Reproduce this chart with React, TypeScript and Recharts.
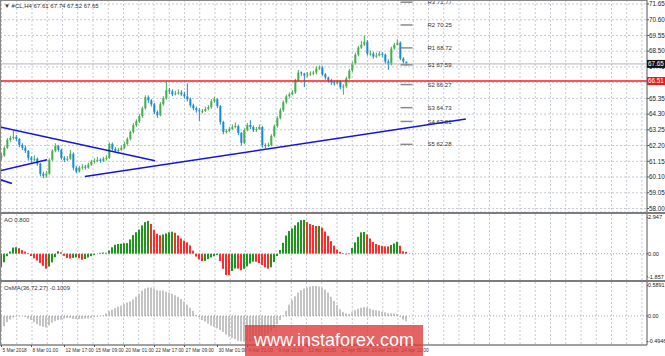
import React from 'react';
import { ComposedChart, Bar, XAxis, YAxis, CartesianGrid, ReferenceLine, Cell } from 'recharts';

// H4 bars (bar index 0..135)
const firstOpen = 61.4;
const closes = [
  61.52, 62.05, 62.58, 62.71, 62.77, 62.64, 62.24, 62.05, 61.85, 61.38,
  61.25, 61.32, 60.99, 60.32, 60.19, 60.32, 61.25, 61.85, 62.18, 61.91,
  61.38, 61.25, 61.32, 61.65, 60.72, 60.46, 60.72, 60.79, 60.72, 60.92,
  61.12, 61.18, 61.25, 61.18, 61.32, 61.38, 62.31, 61.98, 61.85, 61.91,
  62.05, 62.31, 62.64, 63.11, 63.57, 63.83, 64.17, 64.69, 65.42, 65.22,
  64.96, 64.43, 64.23, 64.96, 65.36, 65.89, 65.82, 65.62, 65.69, 65.75,
  65.62, 65.49, 65.29, 64.89, 64.69, 64.56, 64.5, 64.5, 64.63, 64.76,
  65.16, 65.29, 64.83, 63.77, 63.11, 63.17, 63.3, 63.44, 63.5, 63.04,
  62.38, 63.24, 63.57, 63.44, 63.24, 63.3, 63.44, 62.24, 62.18, 62.24,
  62.84, 63.5, 64.03, 64.56, 65.09, 65.49, 65.62, 65.75, 66.55, 67.08,
  67.01, 66.88, 66.95, 67.01, 67.08, 67.34, 67.41, 66.95, 66.75, 66.55,
  66.42, 66.35, 66.48, 66.09, 66.15, 66.68, 67.21, 67.68, 68.27, 68.74,
  68.93, 69.13, 68.34, 68.34, 68.14, 68.21, 68.34, 68.27, 67.81, 67.61,
  68.67, 68.93, 69.07, 68.01, 67.81, 67.65,
];
const highs = [
  61.7, 62.15, 62.7, 62.85, 63.17, 62.9, 62.7, 62.35, 62.2, 61.9,
  61.5, 61.55, 61.4, 61.05, 60.45, 60.5, 61.35, 61.95, 62.35, 62.25,
  61.98, 61.5, 61.5, 61.9, 61.75, 60.85, 60.85, 60.95, 60.9, 61.05,
  61.25, 61.35, 61.45, 61.35, 61.45, 61.55, 62.4, 62.4, 62.1, 62.05,
  62.2, 62.45, 62.75, 63.2, 63.7, 63.95, 64.3, 64.8, 65.55, 65.55,
  65.3, 65.05, 64.55, 65.1, 65.5, 66.45, 66.05, 65.95, 65.85, 65.95,
  65.9, 65.8, 66.35, 65.4, 65.0, 64.8, 64.7, 64.65, 64.8, 64.9,
  65.3, 65.45, 65.35, 64.9, 63.85, 63.3, 63.45, 63.6, 63.75, 63.6,
  63.1, 63.35, 63.7, 63.9, 63.55, 63.45, 63.6, 63.5, 62.35, 62.4,
  62.95, 63.6, 64.15, 64.7, 65.2, 65.6, 65.75, 65.9, 66.65, 67.25,
  67.15, 67.05, 67.1, 67.15, 67.2, 67.5, 67.55, 67.5, 67.05, 66.8,
  66.65, 66.55, 66.6, 66.55, 66.3, 66.8, 67.3, 67.8, 68.4, 68.85,
  69.2, 69.55, 69.25, 68.55, 68.45, 68.4, 68.5, 68.45, 68.35, 67.95,
  68.8, 69.05, 69.3, 69.15, 68.1, 67.74,
];
const lows = [
  61.2, 61.45, 61.98, 62.45, 62.6, 62.5, 62.1, 61.9, 61.7, 61.2,
  61.05, 61.15, 60.85, 60.15, 60.02, 60.05, 60.25, 61.15, 61.75, 61.8,
  61.25, 61.1, 61.15, 61.25, 60.55, 60.35, 60.4, 60.6, 60.6, 60.65,
  60.85, 61.0, 61.1, 61.05, 61.1, 61.2, 61.3, 61.85, 61.75, 61.75,
  61.85, 61.98, 62.2, 62.55, 63.0, 63.45, 63.7, 64.05, 64.6, 65.05,
  64.8, 64.3, 64.05, 64.15, 64.85, 65.25, 65.65, 65.5, 65.55, 65.6,
  65.5, 65.35, 65.15, 64.75, 64.55, 64.4, 63.85, 64.35, 64.45, 64.55,
  64.65, 65.05, 64.7, 63.6, 62.95, 63.0, 63.1, 63.25, 63.35, 62.9,
  62.2, 62.3, 63.15, 63.3, 63.1, 63.1, 63.25, 62.05, 62.0, 62.1,
  62.15, 62.75, 63.4, 63.95, 64.45, 65.0, 65.4, 65.55, 65.65, 66.45,
  66.85, 66.1, 66.75, 66.85, 66.9, 66.95, 67.25, 66.85, 66.6, 66.4,
  66.25, 66.2, 66.3, 65.95, 65.6, 66.05, 66.6, 67.1, 67.6, 68.15,
  68.65, 68.85, 68.2, 68.2, 68.0, 68.05, 68.15, 68.1, 67.65, 67.25,
  67.55, 68.6, 68.9, 67.9, 67.6, 67.52,
];
const aoValues = [
  -1.05, -0.7, -0.2, 0.18, 0.5, 0.53, 0.45, 0.29, 0.17, 0.07,
  -0.19, -0.37, -0.55, -0.76, -0.98, -1.21, -1.04, -0.7, -0.28, 0.2,
  0.12, -0.17, -0.35, -0.39, -0.34, -0.3, -0.37, -0.49, -0.43, -0.3,
  -0.2, -0.1, 0.0, 0.07, 0.1, 0.08, 0.26, 0.52, 0.73, 0.79,
  0.81, 0.85, 0.86, 1.16, 1.51, 1.74, 1.96, 2.3, 2.56, 2.66,
  2.42, 1.95, 1.62, 1.5, 1.56, 1.64, 1.74, 1.79, 1.7, 1.48,
  1.24, 1.06, 0.92, 0.68, 0.25, -0.23, -0.46, -0.6, -0.58, -0.44,
  -0.3, -0.21, -0.11, -0.6, -1.22, -1.73, -1.74, -1.4, -1.2, -1.21,
  -1.34, -1.22, -1.03, -0.8, -0.64, -0.65, -0.75, -0.91, -1.1, -1.2,
  -1.1, -0.68, -0.18, 0.3, 0.88, 1.47, 1.84, 2.05, 2.3, 2.55,
  2.72, 2.75, 2.56, 2.42, 2.33, 2.25, 2.25, 2.11, 1.8, 1.45,
  1.02, 0.65, 0.34, 0.15, 0.06, -0.06, 0.05, 0.46, 0.92, 1.37,
  1.73, 1.76, 1.56, 1.24, 0.96, 0.79, 0.7, 0.64, 0.6, 0.59,
  0.71, 0.83, 0.97, 0.65, 0.2, 0.15,
];
const osmaValues = [
  -0.29, -0.2, -0.12, -0.07, -0.03, -0.01, 0.01, 0.0, -0.02, -0.05,
  -0.08, -0.12, -0.16, -0.19, -0.21, -0.22, -0.18, -0.13, -0.1, -0.08,
  -0.07, -0.05, -0.04, -0.04, -0.06, -0.06, -0.06, -0.06, -0.05, -0.05,
  -0.04, -0.02, -0.01, 0.005, 0.01, 0.05, 0.09, 0.12, 0.15, 0.18,
  0.2, 0.23, 0.26, 0.28, 0.32, 0.37, 0.43, 0.49, 0.53, 0.55,
  0.55, 0.53, 0.5, 0.49, 0.49, 0.47, 0.45, 0.43, 0.4, 0.37,
  0.33, 0.28, 0.22, 0.16, 0.1, 0.02, -0.03, -0.08, -0.11, -0.15,
  -0.19, -0.21, -0.24, -0.27, -0.31, -0.36, -0.4, -0.43, -0.45, -0.48,
  -0.49, -0.5, -0.5, -0.5, -0.49, -0.47, -0.45, -0.43, -0.39, -0.35,
  -0.3, -0.23, -0.16, -0.08, 0.01, 0.1, 0.22, 0.31, 0.38, 0.45,
  0.5, 0.53, 0.55, 0.57, 0.58, 0.58, 0.57, 0.55, 0.51, 0.45,
  0.37, 0.29, 0.21, 0.13, 0.08, 0.05, 0.04, 0.07, 0.11, 0.14,
  0.16, 0.17, 0.16, 0.14, 0.12, 0.11, 0.1, 0.08, 0.07, 0.05,
  0.05, 0.05, 0.04, -0.02, -0.07, -0.1009,
];

const priceTicks = [58.0, 59.05, 60.1, 61.15, 62.2, 63.25, 64.3, 65.35, 66.4, 67.45, 68.5, 69.55, 70.6, 71.65];
const aoTicks = [2.947, 0, -1.857];
const aoTickLabels = ['2.947', '0.00', '-1.857'];
const osmaTicks = [0.5891, 0, -0.4946];
const osmaTickLabels = ['0.5891', '0.00', '-0.4946'];

const dateLabelBars = [0, 10, 21, 31, 41, 51, 61, 72, 82, 92, 102, 113, 123, 133];
const dateLabels = [
  '5 Mar 2018', '8 Mar 01:00', '12 Mar 17:00', '15 Mar 09:00', '20 Mar 01:00', '22 Mar 17:00', '27 Mar 09:00',
  '30 Mar 01:00', '4 Apr 21:00', '9 Apr 21:00', '12 Apr 13:00', '17 Apr 05:00', '19 Apr 21:00', '24 Apr 13:00',
];

const pivotNames = ['R3', 'R2', 'R1', 'S1', 'S2', 'S3', 'S4', 'S5'];
const pivotValues = [71.77, 70.25, 68.72, 67.59, 66.27, 64.73, 63.81, 62.28];
const pivotFrom = 133;
const pivotTo = 137;

const supportLevel = 66.51;
const lastPrice = 67.65;

// trend lines: [barIndex, price] pairs
const trendLines = [
  [[-0.5, 63.44], [51.2, 61.19]],
  [[-0.5, 60.52], [15.2, 61.25]],
  [[-0.5, 59.93], [3.5, 59.66]],
  [[27.8, 60.13], [154.8, 63.97]],
];

const UP = '#44ad4c';
const DOWN = '#1b8ad6';
const AO_UP = '#1e961e';
const AO_DOWN = '#ff2b2b';
const GRID = '#c3cad3';
const FONT = '"Liberation Sans", Arial, sans-serif';

const X_DOMAIN: [number, number] = [-0.5, 215.17];
const PRICE_DOMAIN: [number, number] = [57.765, 71.917];

const bars = closes.map((c, i) => ({
  i,
  open: i === 0 ? firstOpen : closes[i - 1],
  close: c,
  high: highs[i],
  low: lows[i],
  range: [lows[i], highs[i]],
  ao: aoValues[i],
  osma: osmaValues[i],
}));

const gridX = ({ offset }: any) => {
  const out: number[] = [];
  for (let k = 0; k < 43; k++) out.push(offset.left + 1.5 + 15.25 * k);
  return out;
};

const Candle = (props: any) => {
  const { x, y, width, height, payload } = props;
  const { open, close, high, low } = payload;
  const top = Math.min(y, y + height);
  const bottom = Math.max(y, y + height);
  const ppu = (bottom - top) / (high - low);
  const yO = top + (high - open) * ppu;
  const yC = top + (high - close) * ppu;
  const color = close >= open ? UP : DOWN;
  const cx = x + width / 2;
  return (
    <g>
      <line x1={cx} x2={cx} y1={top} y2={bottom} stroke={color} strokeWidth={1} />
      <rect x={cx - 1} y={Math.min(yO, yC)} width={2} height={Math.max(1, Math.abs(yO - yC))} fill={color} />
    </g>
  );
};

const PriceTag = ({ viewBox, bg, text }: any) => {
  if (!viewBox) return null;
  const x = viewBox.x + viewBox.width;
  const y = viewBox.y;
  return (
    <g>
      <rect x={x} y={y - 4} width={18} height={8} fill={bg} />
      <text x={x + 1} y={y + 2.3} fontSize={6.3} fill="#fff" fontFamily={FONT}>{text}</text>
    </g>
  );
};

const DateTick = ({ x, y, payload }: any) => {
  const k = dateLabelBars.indexOf(payload.value);
  return (
    <g>
      <line x1={x} x2={x} y1={y - 2} y2={y} stroke="#555" />
      <text x={x + 1} y={y + 5.3} fontSize={4.8} fill="#333" fontFamily={FONT}>{dateLabels[k]}</text>
    </g>
  );
};

const axisTick = { fontSize: 6.3, fill: '#222', fontFamily: FONT };

const label = (text: string, top: number) => (
  <div style={{ position: 'absolute', left: 4, top, fontSize: 6, lineHeight: '7px', color: '#333', fontFamily: FONT, whiteSpace: 'nowrap' }}>
    {text}
  </div>
);

const App: React.FC = () => {
  return (
    <div style={{ position: 'absolute', left: 0, top: 0, width: 665, height: 356, background: '#fff', overflow: 'hidden' }}>
      <div style={{ position: 'absolute', left: 0, top: 0 }}>
        <ComposedChart width={665} height={212} data={bars} margin={{ top: 0, right: 0, bottom: 0, left: 0 }}>
          <CartesianGrid stroke={GRID} strokeDasharray="2 2" verticalCoordinatesGenerator={gridX} />
          <XAxis dataKey="i" type="number" domain={X_DOMAIN} allowDataOverflow hide />
          <YAxis
            orientation="right"
            width={18}
            domain={PRICE_DOMAIN}
            allowDataOverflow
            ticks={priceTicks}
            interval={0}
            tickFormatter={(v: number) => v.toFixed(2)}
            tick={axisTick}
            tickSize={2}
            tickMargin={0}
            axisLine={{ stroke: '#555' }}
            tickLine={{ stroke: '#555' }}
          />
          <ReferenceLine y={lastPrice} stroke="#b4b4b4" strokeWidth={1} />
          <ReferenceLine y={supportLevel} stroke="#ff1a1a" strokeWidth={1.5} />
          {pivotValues.map((v, k) => (
            <ReferenceLine
              key={pivotNames[k]}
              segment={[{ x: pivotFrom, y: v }, { x: pivotTo, y: v }]}
              stroke="#8a8a8a"
              strokeWidth={1.5}
              ifOverflow="visible"
              label={{ value: `${pivotNames[k]} ${v.toFixed(2)}`, position: 'right', offset: 15, fontSize: 6, fill: '#333', fontFamily: FONT }}
            />
          ))}
          <Bar dataKey="range" barSize={3} isAnimationActive={false} shape={(p: any) => <Candle {...p} />} />
          {trendLines.map((seg, k) => (
            <ReferenceLine
              key={`tl-${k}`}
              segment={[{ x: seg[0][0], y: seg[0][1] }, { x: seg[1][0], y: seg[1][1] }]}
              stroke="#1414e6"
              strokeWidth={1.6}
              ifOverflow="visible"
            />
          ))}
        </ComposedChart>
      </div>

      {/* price tags drawn over the axis labels */}
      <div style={{ position: 'absolute', left: 0, top: 0 }}>
        <ComposedChart width={665} height={212} data={bars} margin={{ top: 0, right: 18, bottom: 0, left: 0 }}>
          <XAxis dataKey="i" type="number" domain={X_DOMAIN} allowDataOverflow hide />
          <YAxis domain={PRICE_DOMAIN} allowDataOverflow hide />
          <ReferenceLine y={lastPrice} stroke="none" label={<PriceTag bg="#111" text={lastPrice.toFixed(2)} />} />
          <ReferenceLine y={supportLevel} stroke="none" label={<PriceTag bg="#f01818" text={supportLevel.toFixed(2)} />} />
        </ComposedChart>
      </div>

      <div style={{ position: 'absolute', left: 0, top: 214 }}>
        <ComposedChart width={665} height={66} data={bars} margin={{ top: 0, right: 0, bottom: 0, left: 0 }}>
          <CartesianGrid stroke={GRID} strokeDasharray="2 2" horizontal={false} verticalCoordinatesGenerator={gridX} />
          <XAxis dataKey="i" type="number" domain={X_DOMAIN} allowDataOverflow hide />
          <YAxis
            orientation="right"
            width={18}
            domain={[-2.13, 3.22]}
            allowDataOverflow
            ticks={aoTicks}
            interval={0}
            tickFormatter={(v: number) => aoTickLabels[aoTicks.indexOf(v)]}
            tick={{ ...axisTick, fontSize: 5.6 }}
            tickSize={1}
            tickMargin={0}
            axisLine={{ stroke: '#555' }}
            tickLine={{ stroke: '#555' }}
          />
          <ReferenceLine y={0} stroke="#9aa4ae" strokeDasharray="1 2" />
          <Bar dataKey="ao" barSize={2} isAnimationActive={false}>
            {bars.map((b, k) => (
              <Cell key={`ao-${k}`} fill={k === 0 || b.ao >= bars[k - 1].ao ? AO_UP : AO_DOWN} />
            ))}
          </Bar>
        </ComposedChart>
      </div>

      <div style={{ position: 'absolute', left: 0, top: 282 }}>
        <ComposedChart width={665} height={74} data={bars} margin={{ top: 0, right: 0, bottom: 0, left: 0 }}>
          <CartesianGrid stroke={GRID} strokeDasharray="2 2" horizontal={false} verticalCoordinatesGenerator={gridX} />
          <XAxis
            dataKey="i"
            type="number"
            domain={X_DOMAIN}
            allowDataOverflow
            ticks={dateLabelBars}
            interval={0}
            height={11}
            tick={<DateTick />}
            tickSize={2}
            tickMargin={0}
            tickLine={false}
            axisLine={{ stroke: '#444' }}
          />
          <YAxis
            orientation="right"
            width={18}
            domain={[-0.562, 0.657]}
            allowDataOverflow
            ticks={osmaTicks}
            interval={0}
            tickFormatter={(v: number) => osmaTickLabels[osmaTicks.indexOf(v)]}
            tick={{ ...axisTick, fontSize: 5.4 }}
            tickSize={1}
            tickMargin={0}
            axisLine={{ stroke: '#555' }}
            tickLine={{ stroke: '#555' }}
          />
          <ReferenceLine y={0} stroke="#9aa4ae" strokeDasharray="1 2" />
          <Bar dataKey="osma" barSize={2} fill="#c4c4c4" isAnimationActive={false} />
        </ComposedChart>
      </div>

      {/* panel frames */}
      <div style={{ position: 'absolute', left: 0, top: 0, width: 647, height: 1, background: '#888' }} />
      <div style={{ position: 'absolute', left: 0, top: 0, width: 1, height: 345, background: '#888' }} />
      <div style={{ position: 'absolute', left: 0, top: 212, width: 665, height: 2, background: '#7c7c7c' }} />
      <div style={{ position: 'absolute', left: 0, top: 280, width: 665, height: 2, background: '#7c7c7c' }} />

      {label('\u25BC #CL,H4  67.61 67.74 67.52 67.65', 3)}
      {label('AO 0.800', 217)}
      {label('OsMA(36,72,27) -0.1009', 285)}

      <div
        style={{
          position: 'absolute',
          left: 245,
          top: 325,
          width: 178,
          height: 31,
          background: 'rgba(222, 60, 60, 0.8)',
          color: '#fff',
          fontFamily: FONT,
          fontSize: 18,
          lineHeight: '31px',
          textAlign: 'center',
        }}
      >
        www.instaforex.com
      </div>
    </div>
  );
};

export default App;
